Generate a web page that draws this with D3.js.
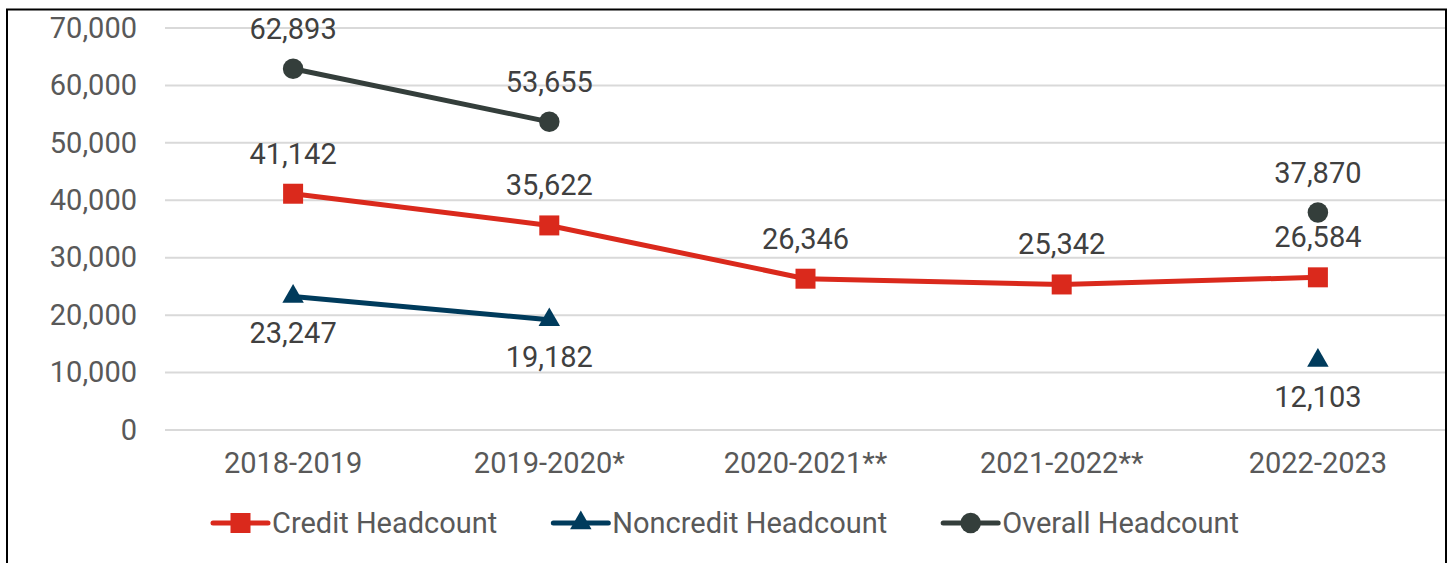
<!DOCTYPE html>
<html>
<head>
<meta charset="utf-8">
<script src="https://cdn.jsdelivr.net/npm/d3@7"></script>
<style>
  body { margin: 0; background: #fff; }
  svg text { font-family: Roboto, "Liberation Sans", sans-serif; }
</style>
</head>
<body>
<svg id="chart" width="1450" height="563"></svg>
<script>
var years = ["2018-2019", "2019-2020*", "2020-2021**", "2021-2022**", "2022-2023"];
var creditHeadcount = [41142, 35622, 26346, 25342, 26584];
var noncreditHeadcount = [23247, 19182, null, null, 12103];
var overallHeadcount = [62893, 53655, null, null, 37870];
var yTicks = [0, 10000, 20000, 30000, 40000, 50000, 60000, 70000];

var series = [
    {name: "Credit Headcount", values: creditHeadcount, color: "#da291c", symbol: d3.symbolSquare, labelPos: "above"},
    {name: "Noncredit Headcount", values: noncreditHeadcount, color: "#003b5c", symbol: d3.symbolTriangle, labelPos: "below"},
    {name: "Overall Headcount", values: overallHeadcount, color: "#343e3b", symbol: d3.symbolCircle, labelPos: "above"}
];

var fontSize = "29px";

var svg = d3.select("#chart");
var margin = {top: 28, right: 4, bottom: 134, left: 165};
var width = 1450, height = 563;

// frame
svg.append("rect")
    .attr("x", 7).attr("y", 9.5)
    .attr("width", 1439).attr("height", 570)
    .attr("fill", "none")
    .attr("stroke", "#000")
    .attr("stroke-width", 2);

var x = d3.scaleBand()
    .domain(years)
    .range([margin.left, width - margin.right]);

var y = d3.scaleLinear()
    .domain([0, 70000])
    .range([height - margin.bottom + 1, margin.top]);

// gridlines
svg.append("g")
    .selectAll("line")
    .data(yTicks)
    .enter()
    .append("line")
    .attr("x1", margin.left)
    .attr("x2", width - margin.right - 1)
    .attr("y1", function(d) { return y(d); })
    .attr("y2", function(d) { return y(d); })
    .attr("stroke", "#d9d9d9")
    .attr("stroke-width", 2);

// y axis labels
var yAxis = d3.axisLeft(y).tickValues(yTicks).tickFormat(d3.format(",")).tickSize(0).tickPadding(0);
var gy = svg.append("g")
    .attr("transform", "translate(137,0)")
    .call(yAxis);
gy.select(".domain").remove();
gy.selectAll("text")
    .attr("font-size", fontSize)
    .attr("font-family", "Roboto")
    .attr("fill", "#595959");

// x axis labels
var xAxis = d3.axisBottom(x).tickSize(0).tickPadding(0);
var gx = svg.append("g")
    .attr("transform", "translate(0," + (y(0) + 22) + ")")
    .call(xAxis);
gx.select(".domain").remove();
gx.selectAll("text")
    .attr("font-size", fontSize)
    .attr("font-family", "Roboto")
    .attr("fill", "#595959");

var cx = function(i) { return x(years[i]) + x.bandwidth() / 2; };

var line = d3.line()
    .defined(function(d) { return d != null; })
    .x(function(d, i) { return cx(i); })
    .y(function(d) { return y(d); });

function symSize(s) {
    return s.symbol == d3.symbolTriangle ? 200 : s.symbol == d3.symbolCircle ? 330 : 400;
}

series.forEach(function(s) {
    svg.append("path")
        .datum(s.values)
        .attr("d", line)
        .attr("fill", "none")
        .attr("stroke", s.color)
        .attr("stroke-width", 5);

    var pts = s.values.map(function(v, i) { return {v: v, i: i}; })
        .filter(function(d) { return d.v != null; });

    svg.append("g")
        .selectAll("path")
        .data(pts)
        .enter()
        .append("path")
        .attr("d", d3.symbol().type(s.symbol).size(symSize(s)))
        .attr("transform", function(d) { return "translate(" + cx(d.i) + "," + y(d.v) + ")"; })
        .attr("fill", s.color);

    svg.append("g")
        .selectAll("text")
        .data(pts)
        .enter()
        .append("text")
        .attr("x", function(d) { return cx(d.i); })
        .attr("y", function(d) { return s.labelPos == "above" ? y(d.v) - 30 : y(d.v) + 47; })
        .attr("text-anchor", "middle")
        .attr("font-size", fontSize)
        .attr("fill", "#404040")
        .text(function(d) { return d3.format(",")(d.v); });
});

// legend
var legend = svg.append("g");
var lx = 213, ly = 523;
series.forEach(function(s) {
    var g = legend.append("g").attr("transform", "translate(" + lx + "," + ly + ")");
    g.append("line")
        .attr("x1", 0).attr("x2", 55)
        .attr("stroke", s.color).attr("stroke-width", 5)
        .attr("stroke-linecap", "round");
    g.append("path")
        .attr("d", d3.symbol().type(s.symbol).size(symSize(s)))
        .attr("transform", "translate(27.5,0)")
        .attr("fill", s.color);
    var t = g.append("text")
        .attr("x", 59)
        .attr("y", 10)
        .attr("font-size", fontSize)
        .attr("fill", "#595959")
        .text(s.name);
    lx += 59 + t.node().getComputedTextLength() + 56;
});
</script>
</body>
</html>
